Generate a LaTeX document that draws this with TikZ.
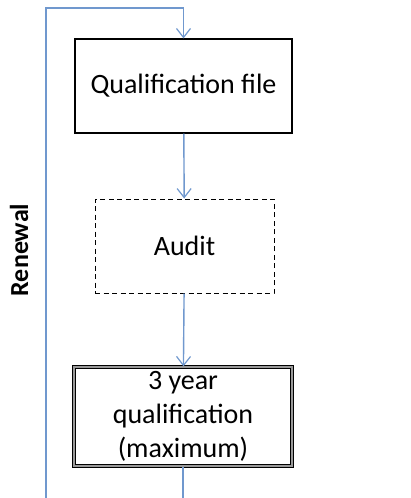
\documentclass[tikz,border=0pt]{standalone}
\usepackage{fontspec}
\setmainfont{Carlito}
\usetikzlibrary{arrows.meta}
\definecolor{flowblue}{RGB}{112,152,206}

\begin{document}
\begin{tikzpicture}[
  x=1pt, y=-1pt,
  stagebox/.style={rectangle, draw=black, line width=1.1pt, align=center, inner sep=0pt, font=\fontsize{28}{34}\selectfont},
  flow/.style={draw=flowblue, line width=1.4pt, -{Straight Barb[length=9pt,width=14pt,line width=1.2pt]}},
  plain/.style={draw=flowblue, line width=1.4pt},
  sidelabel/.style={font=\fontsize{26}{30}\selectfont\bfseries, rotate=90}
]
\useasboundingbox (0,0) rectangle (411,498);

% Boxes
\node[stagebox, minimum width=217pt, minimum height=94pt] (Qual) at (183.5,86) {Qualification file};
\node[stagebox, line width=1pt, dash pattern=on 5pt off 3.5pt, minimum width=179pt, minimum height=94pt] (Audit) at (184.5,246) {Audit};
\node[stagebox, line width=1.2pt, double=gray!80, double distance=1.6pt, minimum width=218pt, minimum height=99pt] (Qual3) at (183,416.5) {3 year\\qualification\\(maximum)};

% Renewal loop
\coordinate (loopTL) at (46,8);
\coordinate (loopBL) at (46,498);
\coordinate (loopBR) at (183,498);
\node[sidelabel] (Renewal) at (19,250) {Renewal};

% Flow
\draw[flow] (Qual) -- (Audit);
\draw[flow] (Audit) -- (Qual3);
\draw[plain] (Qual3.south) -- (loopBR);
\draw[flow] (loopBL) -- (loopTL) -| (Qual.north);

\end{tikzpicture}
\end{document}
